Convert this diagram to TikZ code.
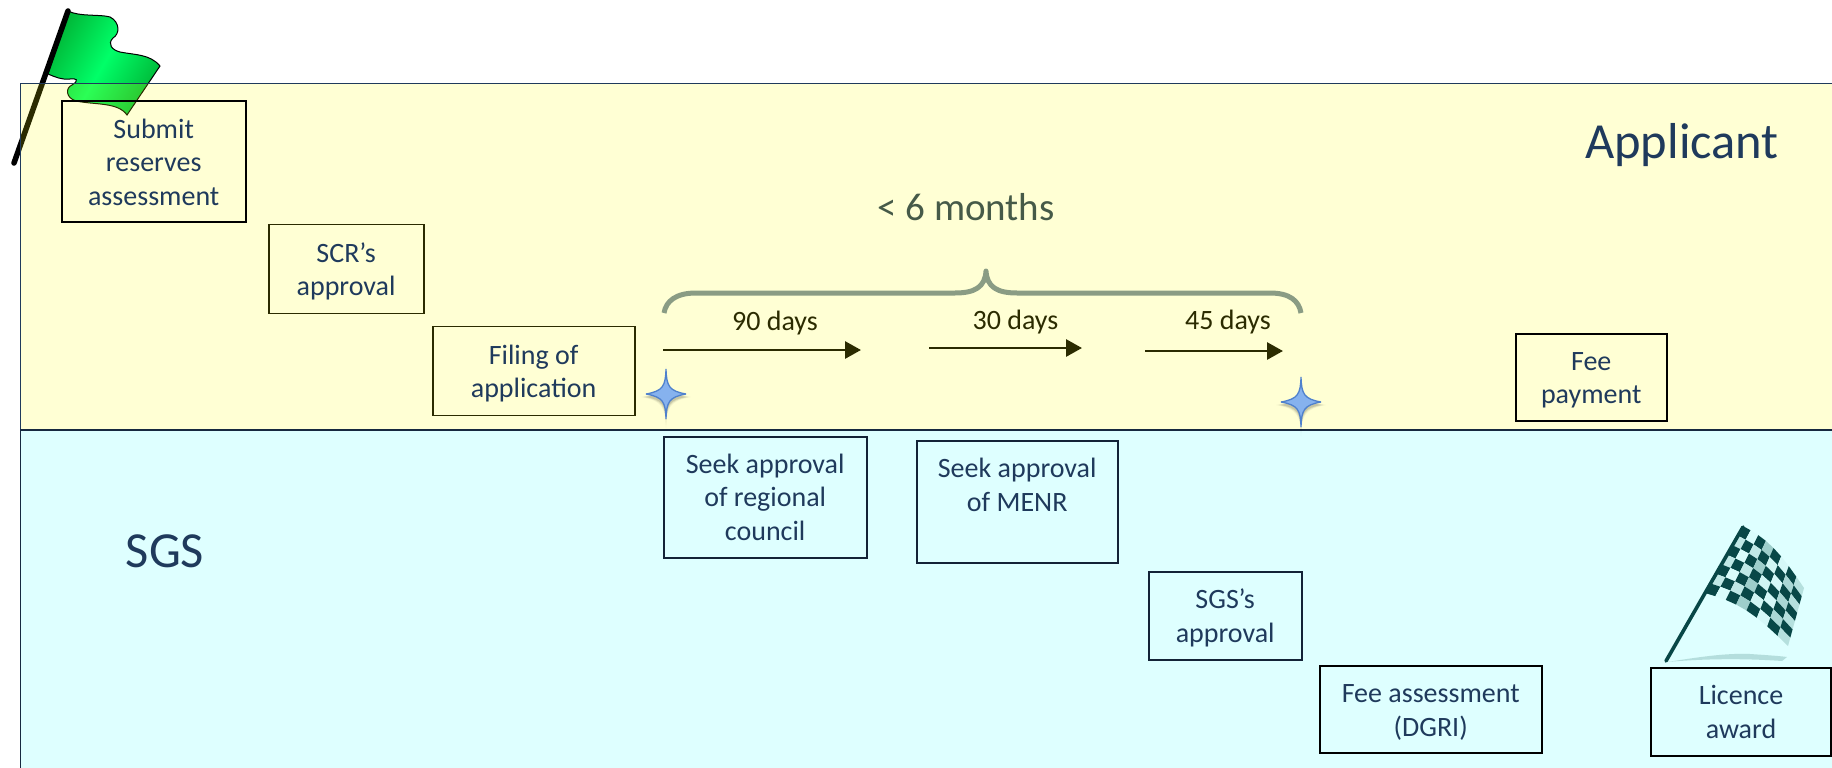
\documentclass[tikz,border=0pt]{standalone}
\usepackage{fontspec}
\setmainfont{Carlito}
\usetikzlibrary{arrows.meta}
\definecolor{txtblue}{HTML}{1F3A5C}
\definecolor{olive}{HTML}{2B2B00}
\definecolor{days}{HTML}{2B2B00}
\definecolor{bracec}{HTML}{8A9C84}
\definecolor{monthc}{HTML}{465A48}
\definecolor{checkd}{HTML}{0A2C2C}
\definecolor{starf}{HTML}{86B2EE}
\definecolor{stard}{HTML}{4F81CD}
\definecolor{pureyellow}{HTML}{FFFF00}
\definecolor{purecyan}{HTML}{00FFFF}
\definecolor{flagdark}{HTML}{00B838}
\definecolor{flaglight}{HTML}{00FF68}
\definecolor{checkl}{HTML}{FAFCFB}
\definecolor{checkg}{HTML}{A8BCB8}
\newcommand{\dn}[1]{\rule{0pt}{#1}}
\newcommand{\sparkle}[1]{%
  \foreach \sc/\op in {1.25/0.06,1.12/0.08,1/0.1}{
    \fill[black,opacity=\op,shift={(#1)},yshift=-3pt,scale=\sc]
      (0,-25) .. controls (0.5,-8) and (3,-3) .. (20,0) .. controls (3,3) and (0.5,8) .. (0,25)
      .. controls (-0.5,8) and (-3,3) .. (-20,0) .. controls (-3,-3) and (-0.5,-8) .. (0,-25) -- cycle;}
  \filldraw[fill=starf,draw=stard,line width=1.3pt,miter limit=3,shift={(#1)}]
      (0,-25) .. controls (0.5,-8) and (3,-3) .. (20,0) .. controls (3,3) and (0.5,8) .. (0,25)
      .. controls (-0.5,8) and (-3,3) .. (-20,0) .. controls (-3,-3) and (-0.5,-8) .. (0,-25) -- cycle;
}
\tikzset{
  stepbox/.style={draw=black,line width=2pt,fill=none,text=txtblue,align=center,inner sep=0pt,
    font=\fontsize{28}{33.6}\selectfont,anchor=north west},
  olivebox/.style={stepbox,draw=olive,line width=1.8pt},
  dayarrow/.style={draw=days,line width=2.8pt,-{Triangle[length=16pt,width=17pt]}},
  daylabel/.style={text=days,font=\fontsize{28}{30}\selectfont,inner sep=0pt,anchor=base},
  bandlabel/.style={text=txtblue,font=\fontsize{50.5}{55}\selectfont,inner sep=0pt}
}
\begin{document}
\begin{tikzpicture}[x=1pt,y=-1pt,
  declare function={
    fx(\a,\b)=(1-\b)*((1-\a)*1743+\a*1804)+\b*((1-\a)*1705+\a*1788);
    fy(\a,\b)=(1-\b)*((1-\a)*526+\a*588)+\b*((1-\a)*593+\a*646)-9*sin(\a*180);
  }]
\useasboundingbox (0,0) rectangle (1832,768);
\fill[white] (0,0) rectangle (1832,768);
% green flag
\path[draw=black,line width=1pt,left color=flagdark,right color=flagdark,middle color=flaglight,shading angle=60]
  (68,11) .. controls (80,17) and (100,14) .. (110,17)
  .. controls (120,22) and (120,34) .. (113,38)
  .. controls (107,44) and (112,50) .. (120,52)
  .. controls (135,55) and (150,54) .. (160,66)
  -- (127,115)
  .. controls (118,102) and (95,105) .. (76,101)
  .. controls (66,98) and (65,88) .. (72,85)
  .. controls (80,80) and (76,78) .. (70,79)
  .. controls (62,80) and (55,77) .. (48,74) -- cycle;
\draw[black,line width=5.5pt,line cap=round] (68,11) -- (14,163);
% checkered flag
\foreach \i in {0,...,7}{
  \foreach \j in {0,...,6}{
    \pgfmathtruncatemacro{\cellodd}{mod(\i+\j,2)}
    \pgfmathsetmacro{\aa}{\i/8}\pgfmathsetmacro{\ab}{(\i+1)/8}
    \pgfmathsetmacro{\ba}{\j/7}\pgfmathsetmacro{\bb}{(\j+1)/7}
    \pgfmathsetmacro{\mixp}{100*abs(sin(\aa*400+40))}
    \ifnum\cellodd=0
      \fill[checkd] ({fx(\aa,\ba)},{fy(\aa,\ba)}) -- ({fx(\ab,\ba)},{fy(\ab,\ba)}) -- ({fx(\ab,\bb)},{fy(\ab,\bb)}) -- ({fx(\aa,\bb)},{fy(\aa,\bb)}) -- cycle;
    \else
      \fill[checkl!\mixp!checkg] ({fx(\aa,\ba)},{fy(\aa,\ba)}) -- ({fx(\ab,\ba)},{fy(\ab,\ba)}) -- ({fx(\ab,\bb)},{fy(\ab,\bb)}) -- ({fx(\aa,\bb)},{fy(\aa,\bb)}) -- cycle;
    \fi
  }
}
\draw[checkd,line width=3.6pt,line cap=round] (1743,527) -- (1666,661);
\fill[checkg,opacity=0.55] (1667,662) .. controls (1700,657) and (1725,653) .. (1750,654) .. controls (1765,655) and (1780,656) .. (1787,657) -- (1782,661) .. controls (1740,658) and (1700,659) .. (1667,662) -- cycle;
% bands
\filldraw[fill=pureyellow,fill opacity=0.17,draw=txtblue,line width=1pt] (20.5,84) rectangle (1840,430);
\filldraw[fill=purecyan,fill opacity=0.13,draw=txtblue!70!black,line width=1.2pt] (20.5,430) rectangle (1840,775);
% boxes
\node[stepbox,minimum width=184pt,minimum height=121pt] (submit) at (60.7,99.5) {\dn{22pt}Submit\\reserves\\assessment};
\node[olivebox,minimum width=155pt,minimum height=89pt] (scr) at (267.7,223.5) {\dn{25pt}SCR’s\\approval};
\node[olivebox,minimum width=202pt,minimum height=89pt] (filing) at (431.7,325.5) {\dn{25pt}Filing of\\application};
\node[stepbox,draw=txtblue!60!black,minimum width=203pt,minimum height=121pt] (seekA) at (662.7,435.5) {Seek approval\\of regional\\council};
\node[stepbox,draw=txtblue!60!black,minimum width=201pt,minimum height=122pt] (seekB) at (915.7,439.5) {Seek approval\\of MENR\\\mbox{}};
\node[stepbox,draw=txtblue!60!black,minimum width=153pt,minimum height=88pt] (sgsok) at (1147.7,570.5) {\dn{24.6pt}SGS’s\\approval};
\node[stepbox,minimum width=222pt,minimum height=87pt] (feeas) at (1318.7,664.5) {\dn{25pt}Fee assessment\\(DGRI)};
\node[stepbox,minimum width=180pt,minimum height=88pt] (licence) at (1650,666.5) {\dn{20pt}Licence\\award};
\node[stepbox,minimum width=151pt,minimum height=87pt] (feepay) at (1514.7,332.5) {\dn{24.6pt}Fee\\payment};
% band titles
\node[bandlabel] (applicant) at (1682,145) {Applicant};
\node[bandlabel] (sgs) at (165,551) {SGS};
\node[text=monthc,font=\fontsize{39}{42}\selectfont,inner sep=0pt] (months) at (966,207) {< 6 months};
% brace
\draw[bracec,line width=5pt,line join=round] (664,313) .. controls (666,301) and (676,293) .. (696,293)
  -- (955,293) .. controls (975,293) and (985,287) .. (986,271)
  .. controls (987,287) and (997,293) .. (1017,293) -- (1270,293)
  .. controls (1290,293) and (1299,301) .. (1301,313);
% day arrows
\coordinate (a1s) at (663,350); \coordinate (a1e) at (861,350);
\coordinate (a2s) at (929,348); \coordinate (a2e) at (1082,348);
\coordinate (a3s) at (1145,351); \coordinate (a3e) at (1283,351);
\draw[dayarrow] (a1s) -- (a1e);
\draw[dayarrow] (a2s) -- (a2e);
\draw[dayarrow] (a3s) -- (a3e);
\node[daylabel] (d90) at (775,330) {90 days};
\node[daylabel] (d30) at (1015.5,329) {30 days};
\node[daylabel] (d45) at (1228,329.5) {45 days};
% stars
\coordinate (s1) at (666,394);
\coordinate (s2) at (1301,402);
\sparkle{s1}
\sparkle{s2}
\end{tikzpicture}
\end{document}
